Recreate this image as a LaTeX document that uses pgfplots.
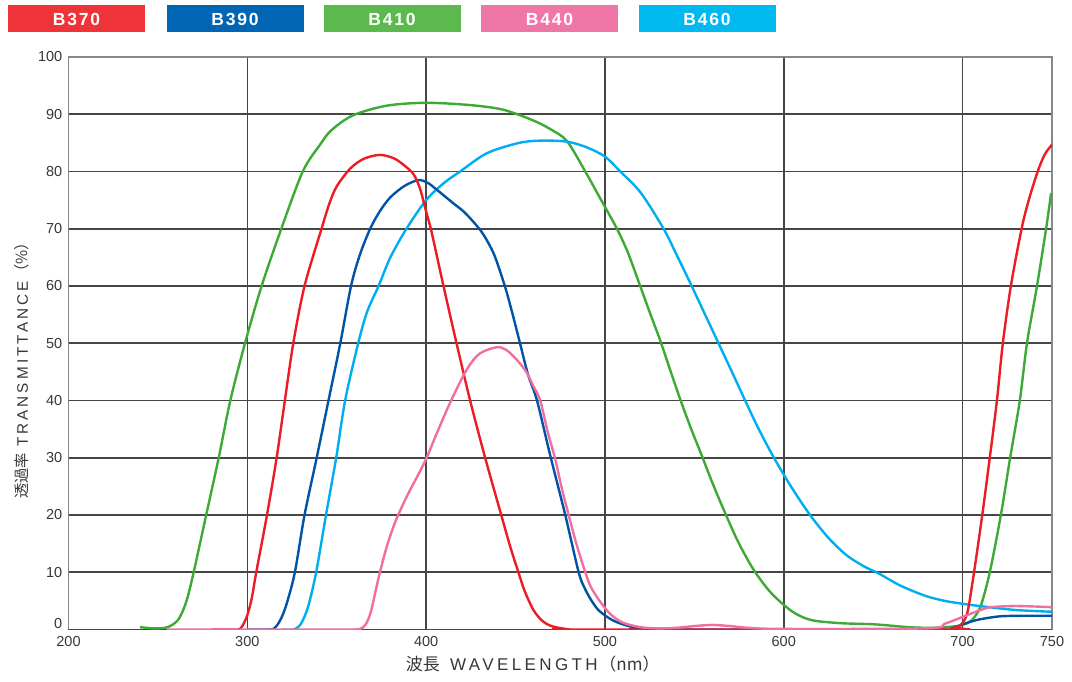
\documentclass[border=0pt]{standalone}
\usepackage{pgfplots}
\pgfplotsset{compat=1.18}
\usepackage{fontspec}
\setmainfont{Liberation Sans}
\newfontfamily\jp{Noto Sans CJK JP}
\newfontfamily\widefont[LetterSpace=20]{Liberation Sans}
\newfontfamily\legfont[LetterSpace=10]{Liberation Sans}
\definecolor{cRed}{RGB}{237,28,36}
\definecolor{cBlue}{RGB}{0,84,166}
\definecolor{cGreen}{RGB}{61,170,53}
\definecolor{cPink}{RGB}{240,110,160}
\definecolor{cCyan}{RGB}{0,174,239}
\definecolor{bRed}{RGB}{238,52,56}
\definecolor{bBlue}{RGB}{0,102,179}
\definecolor{bGreen}{RGB}{91,185,78}
\definecolor{bPink}{RGB}{239,119,167}
\definecolor{bCyan}{RGB}{0,185,239}
\definecolor{gridc}{RGB}{70,70,70}
\definecolor{axc}{RGB}{135,135,135}
\definecolor{txt}{RGB}{55,55,55}
\begin{document}
\begin{tikzpicture}[x=1pt,y=1pt]
\useasboundingbox (0,0) rectangle (1072,681);
\foreach \cx/\col/\lab in {76.5/bRed/B370,235/bBlue/B390,392/bGreen/B410,549.5/bPink/B440,707/bCyan/B460}{
  \node[fill=\col, text=white, minimum width=137pt, minimum height=27pt, inner sep=0pt, font=\legfont\fontsize{17.5}{17.5}\selectfont\bfseries] at (\cx,662) {\lab};
}
\begin{axis}[
  at={(68.5pt,51.5pt)}, anchor=south west,
  scale only axis, width=983.5pt, height=572.5pt,
  xmin=200, xmax=750, ymin=0, ymax=100,
  xtick={200,300,400,500,600,700,750},
  ytick={10,20,30,40,50,60,70,80,90,100},
  extra y ticks={0},
  extra y tick style={yticklabel style={yshift=6pt}},
  grid=major,
  major grid style={draw=gridc, line width=1.6pt},
  axis line style={draw=axc, line width=1.8pt},
  major tick length=0pt,
  tick label style={font=\fontsize{14.5}{14.5}\selectfont, text=txt, inner sep=0pt},
  /pgf/number format/assume math mode=true,
  yticklabel style={anchor=east, xshift=-6pt},
  xticklabel style={anchor=north, yshift=-7pt},
  xlabel={{\jp 波長}\hspace{0.6em}{\widefont WAVELENGTH}\hspace{0.1em}{\jp （nm）}},
  xlabel style={at={(axis description cs:0.472,0)}, anchor=center, yshift=-34.5pt, font=\fontsize{17}{17}\selectfont, text=txt, inner sep=0pt},
  ylabel={{\jp 透過率}\hspace{0.4em}{\widefont TRANSMITTANCE}\hspace{0.1em}{\jp （\%）}},
  ylabel style={at={(axis description cs:-0.0473,0.4585)}, anchor=center, font=\fontsize{15.3}{15.3}\selectfont, text=txt, inner sep=0pt},
  every axis plot/.append style={line width=2.4pt, smooth, tension=0.5, no markers},
  clip=true,
]
% B410
\addplot[cGreen] coordinates {(240,0.4)(248,0.2)(254,0.3)(258,0.8)(262,2)(266,5)(270,10)(277,20)(284,30)(290.5,40)(298.7,50)(308,60)(319,70)(331,80)(340.7,84.7)(347,87.2)(359,89.8)(378,91.5)(400,92)(424.6,91.6)(443,90.8)(460,88.9)(470,87.3)(478.8,85.3)(489,80)(497,75.5)(506.7,70)(513,65.7)(519.7,60)(525.5,55)(531,50.4)(536.5,45.3)(542,40.3)(548,35.2)(554,30.5)(560.5,25.3)(567,20.5)(574.5,15.3)(583,10.5)(592,6.7)(600,4.3)(607,2.7)(616,1.6)(632,1.1)(651,0.9)(670,0.4)(683,0.3)(694,0.5)(700,0.8)(705,1.6)(710,4)(715.2,10)(721.4,20)(726.6,30)(732,40)(736,50)(741.6,60)(746.7,70)(749.5,76.2)};
% B460
\addplot[cCyan] coordinates {(320,0)(326,0)(330,1)(334,4)(338.5,10)(344,20)(349.7,30)(354.7,40)(362,50)(367,55.5)(373.4,60)(380,65)(389,70)(400,75)(410,78)(419,80)(434,83.2)(452,85)(465,85.4)(479,85.2)(490,84.2)(500,82.6)(508.6,80)(520,76.3)(532.8,70)(540,65.5)(548.5,60)(556,55)(563.5,50)(571,45)(578.4,40)(586,35)(594.5,30)(604,25)(614.7,20)(625,16)(635,13)(645,11)(653,9.8)(665,7.7)(679,5.9)(690,5)(700,4.5)(712,4)(730,3.4)(750,3.1)};
% B390
\addplot[cBlue] coordinates {(300,0)(313,0)(316,0.5)(319,2)(322,4.5)(326.6,10)(332,20)(338.8,30)(345.4,40)(352,50)(358,60)(363,65.5)(368.7,70)(374,73)(380,75.5)(388,77.5)(395.7,78.5)(401,78)(406,76.8)(415,74.5)(421,73)(427,71)(432,69)(438,65.5)(444,60)(448,55.5)(452.5,50)(457,44.5)(462,40)(469.4,30.4)(477.8,20)(485.3,10)(489,7)(493,4.8)(497,3.2)(505,1.5)(516,0.4)(530,0)(690,0)(695,0.3)(700,0.9)(705,1.4)(710,1.8)(721,2.3)(735,2.4)(750,2.4)};
% B370
\addplot[cRed] coordinates {(280,0)(294,0)(297,0.5)(300,2.5)(302.5,5.5)(305,10)(311,20)(316.4,30)(321,40)(325.7,50)(332,60)(341.5,70)(346,74.5)(350,77.4)(357.5,80.5)(365,82.2)(374,82.9)(382,82.3)(388,81)(393,79.5)(396.6,77)(400,73)(403,69.5)(409.7,60)(417,50)(424.6,40)(433,30)(442,20)(447,14.5)(451.6,10)(455,6.8)(460,3.4)(465,1.5)(470,0.6)(478,0.1)(485,0)(690,0)(695,0.2)(699,0.8)(702.7,3)(706.4,10)(711,20)(715.2,30)(719.2,40)(722.5,50)(727,60)(733,70)(737,75)(742,80)(746,83)(750,84.7)};
% B440
\addplot[cPink] coordinates {(255,0)(300,0)(340,0)(358,0)(363,0.1)(366,0.8)(369,3)(373.4,9)(378,14.5)(383,19)(389.6,23.5)(395,26.7)(400,29.8)(406,34.3)(413.4,39.6)(422.7,45.4)(430,48.2)(439.5,49.3)(445,48.8)(451,47)(456,45)(460,42.5)(463.8,40)(468,34.5)(472,30)(476,24.5)(479.7,20)(484,15)(489,10)(492,7.5)(497,5)(503,2.7)(510,1.2)(520,0.4)(530,0.2)(540,0.3)(550,0.6)(560,0.8)(570,0.6)(580,0.3)(600,0.1)(680,0.2)(690,1)(700,2.2)(710,3.4)(716,3.9)(730,4.1)(750,3.9)};
\end{axis}
\end{tikzpicture}
\end{document}
